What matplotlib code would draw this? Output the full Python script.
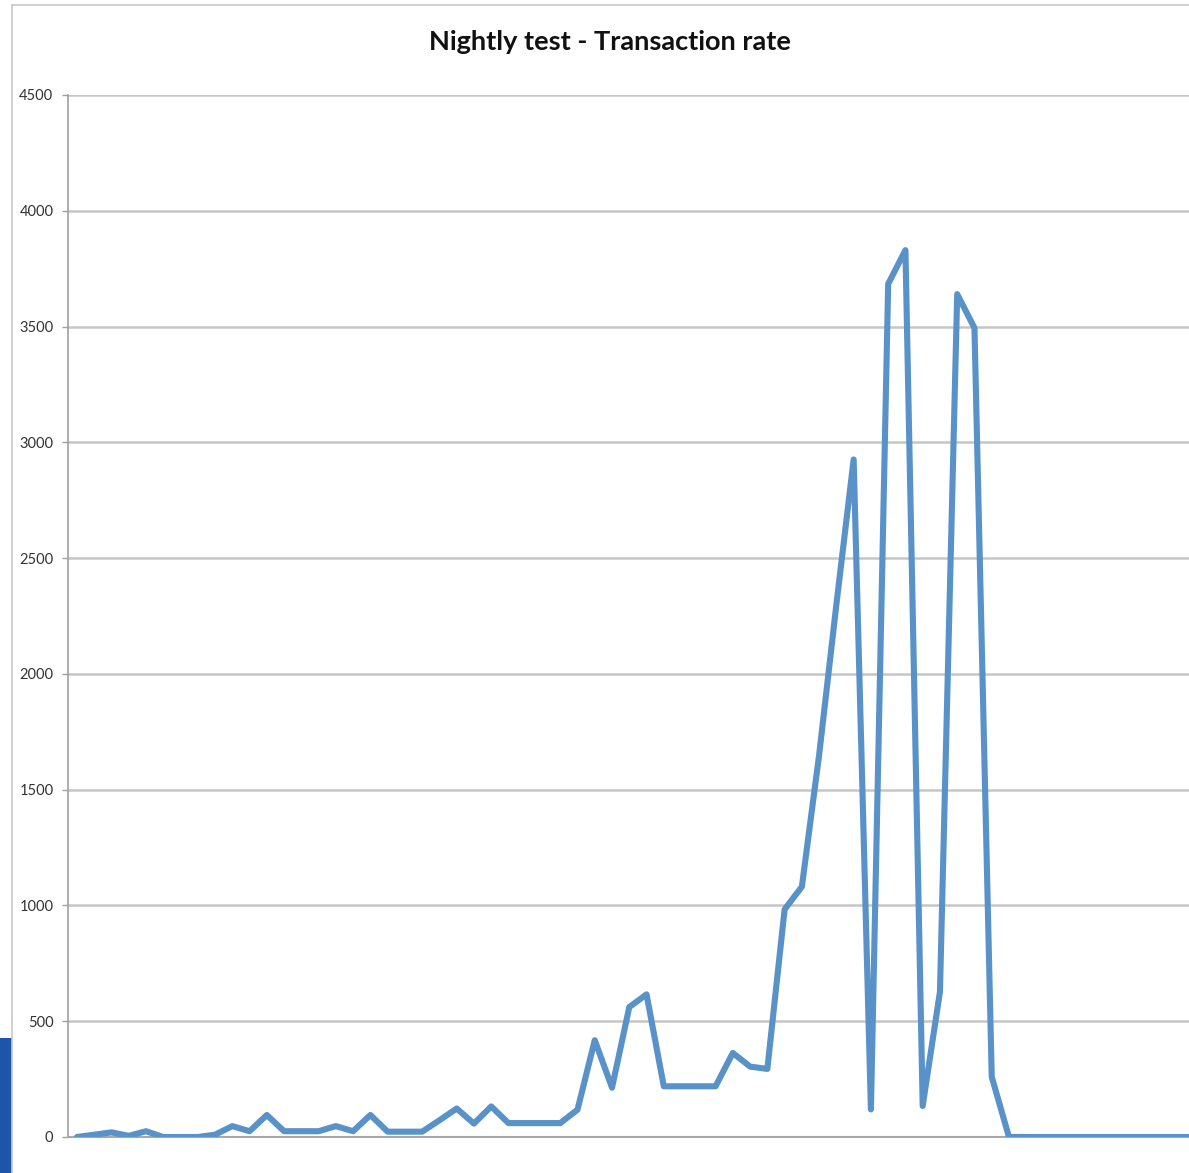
import matplotlib
matplotlib.use("Agg")
import matplotlib.pyplot as plt
from matplotlib.patches import Rectangle
from matplotlib.lines import Line2D

# Nightly transaction rate, one value per run
rate = [
    0, 10, 20, 5, 25, 0, 0, 0, 10, 47,
    25, 95, 25, 25, 25, 47, 25, 95, 23, 23,
    23, 72, 123, 58, 132, 60, 60, 60, 60, 118,
    418, 213, 561, 616, 219, 219, 219, 219, 363, 304,
    294, 983, 1081, 1650, 2300, 2926, 119, 3684, 3830, 134,
    627, 3640, 3494, 260, 0, 0, 0, 0, 0, 0,
    0, 0, 0, 0, 0, 0, 0,
]
runs = list(range(len(rate)))
y_ticks = [0, 500, 1000, 1500, 2000, 2500, 3000, 3500, 4000, 4500]
title = "Nightly test - Transaction rate"

W, H = 1189, 1173
fig = plt.figure(figsize=(W / 100, H / 100), dpi=100)
fig.patch.set_facecolor("white")

# Plot area in pixel terms
left_px, right_px, bottom_px, top_px = 68, 1189, 1137, 95
ax = fig.add_axes([left_px / W, (H - bottom_px) / H,
                   (right_px - left_px) / W, (bottom_px - top_px) / H])

ax.plot(runs, rate, color="#5892c9", linewidth=4.4,
        solid_joinstyle="round", solid_capstyle="round", zorder=3,
        clip_on=True)

ax.set_ylim(0, 4500)
ax.set_xlim(-0.52, 64.43)
ax.set_yticks(y_ticks)
ax.set_yticklabels([str(t) for t in y_ticks], fontsize=10.5,
                   color="#333333", fontfamily="Lato")
ax.set_xticks([])

ax.yaxis.grid(True, color="#c6c6c6", linewidth=1.8, zorder=1)
ax.set_axisbelow(True)
ax.tick_params(axis="y", length=4.5, width=1.0, color="#a0a0a0", pad=6)

for side in ("top", "right"):
    ax.spines[side].set_visible(False)
ax.spines["left"].set_color("#a0a0a0")
ax.spines["left"].set_linewidth(1.2)
ax.spines["bottom"].set_color("#a8a8a8")
ax.spines["bottom"].set_linewidth(1.5)

fig.text(610 / W, 1 - 42 / H, title, ha="center", va="center",
         fontsize=19.5, fontweight="bold", fontfamily="Lato", color="#111111")

# Chart frame (left and top edges) and the side tab
fig.add_artist(Line2D([12 / W, 12 / W], [0, 1 - 5 / H],
                      transform=fig.transFigure, color="#c8c8c8", linewidth=1.2))
fig.add_artist(Line2D([12 / W, 1], [1 - 5 / H, 1 - 5 / H],
                      transform=fig.transFigure, color="#c8c8c8", linewidth=1.2))
fig.add_artist(Rectangle((0, 0), 12 / W, (H - 1038) / H,
                         transform=fig.transFigure, color="#1c55a9", linewidth=0))

fig.savefig("out.png", dpi=100)
